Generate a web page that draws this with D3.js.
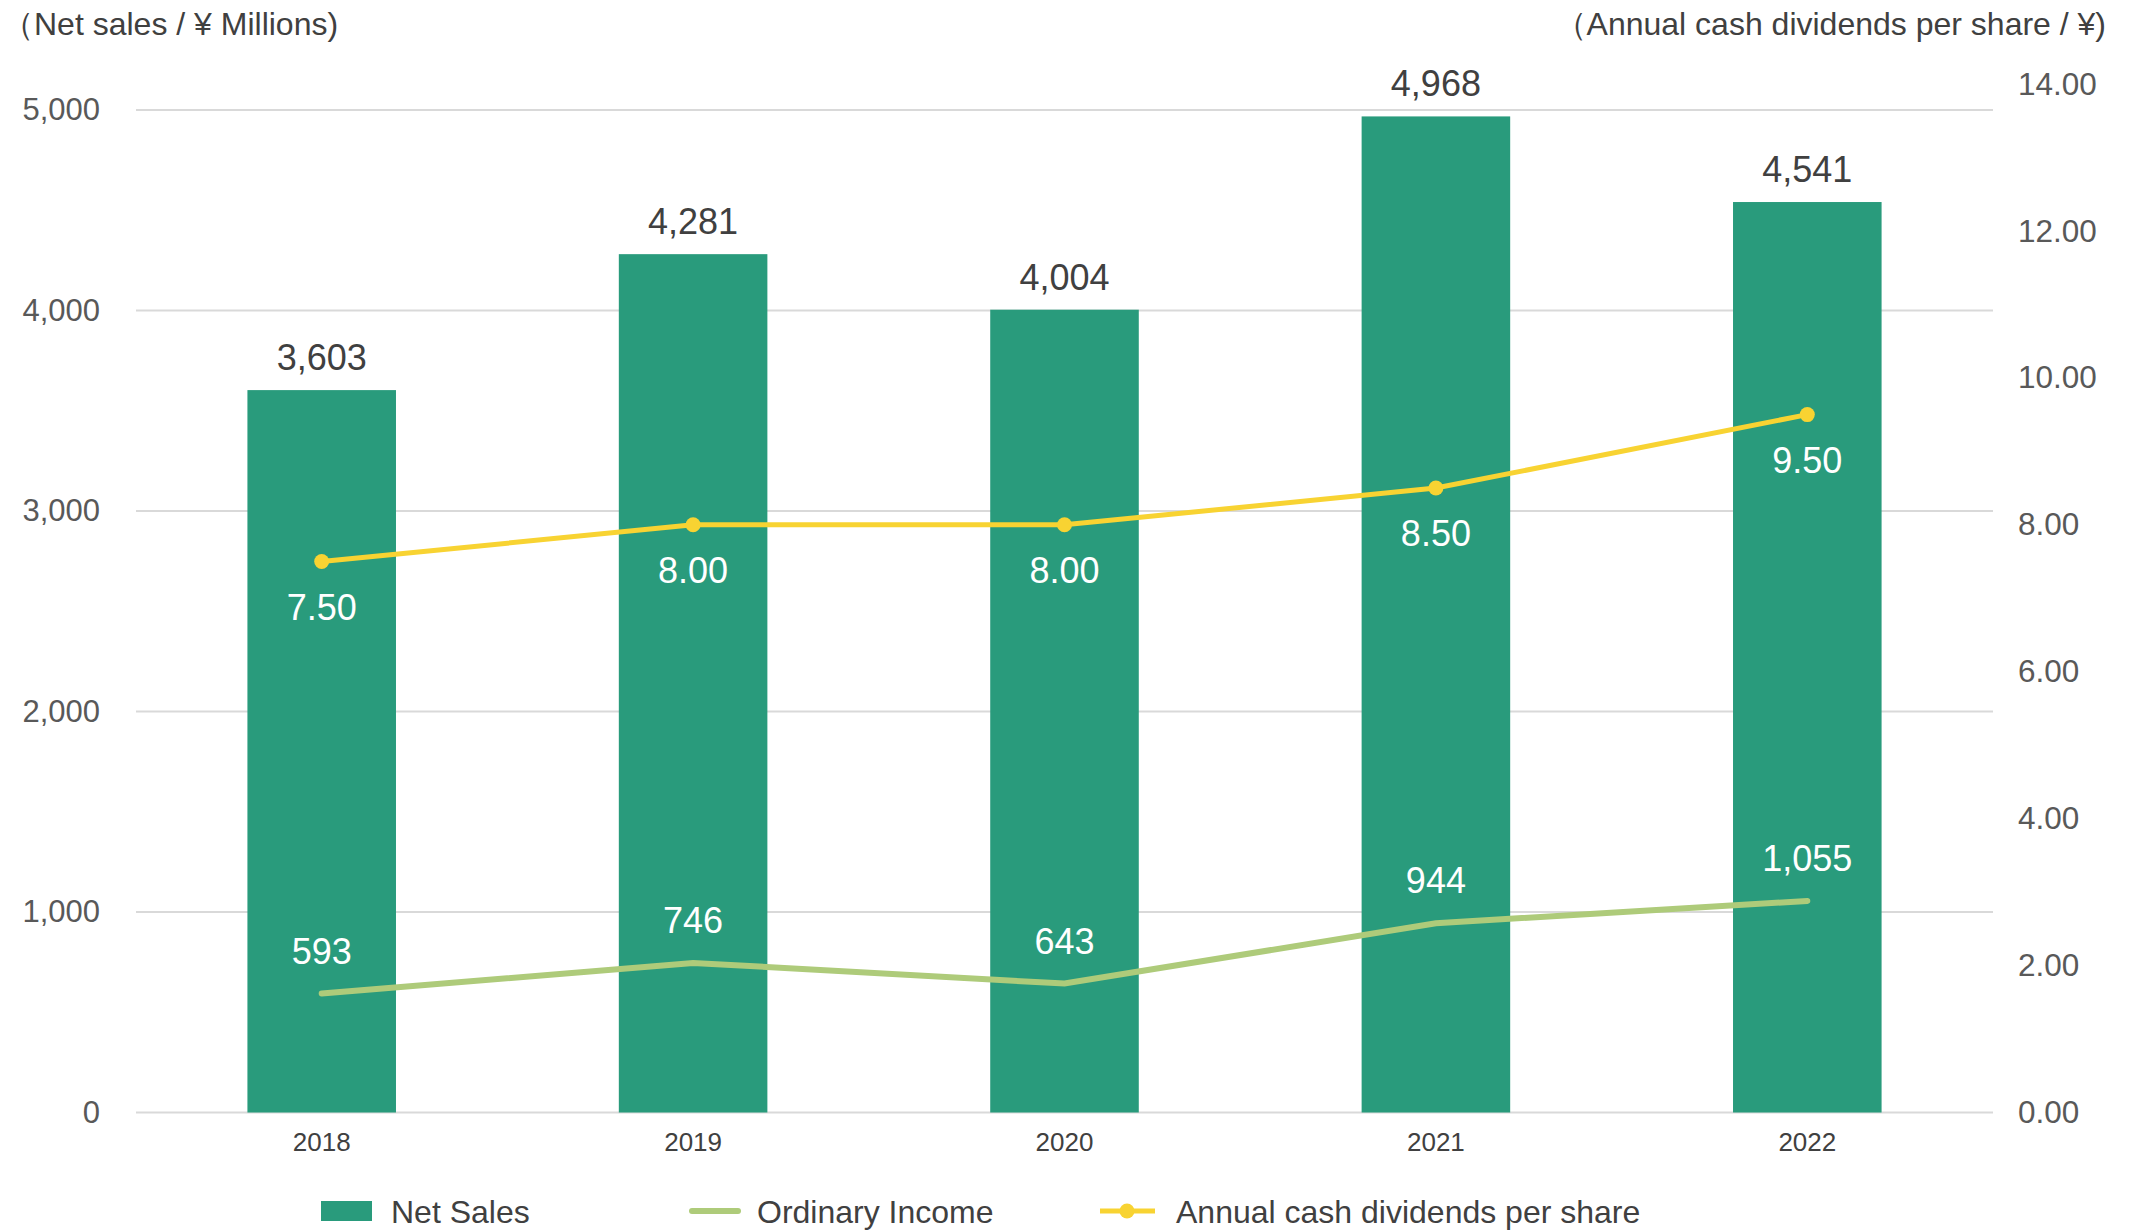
<!DOCTYPE html>
<html>
<head>
<meta charset="utf-8">
<script src="https://cdn.jsdelivr.net/npm/d3@7"></script>
<style>
  body { margin: 0; background: #fff; }
  text { font-family: "Liberation Sans", Arial, sans-serif; }
</style>
</head>
<body>
<svg id="chart" width="2130" height="1230"></svg>
<script>
const years = ["2018", "2019", "2020", "2021", "2022"];
const netSales = [3603, 4281, 4004, 4968, 4541];
const ordinaryIncome = [593, 746, 643, 944, 1055];
const dividends = [7.5, 8.0, 8.0, 8.5, 9.5];
const leftTicks = [0, 1000, 2000, 3000, 4000, 5000];
const rightTicks = [0, 2, 4, 6, 8, 10, 12, 14];
const legendNames = ["Net Sales", "Ordinary Income", "Annual cash dividends per share"];

const green = "#299b7c", lime = "#aecb7a", yellow = "#f8d332";

var svg = d3.select("#chart");
var left = 136, right = 1993, bottom = 1112.5;

var x = d3.scaleBand().domain(years).range([left, right]).paddingInner(0.6).paddingOuter(0.3);
var yL = d3.scaleLinear().domain([0, 5000]).range([bottom, 110]);
var yR = d3.scaleLinear().domain([0, 14]).range([bottom, 84]);
var cx = d => x(d) + x.bandwidth() / 2;

// gridlines
svg.append("g")
  .selectAll("line")
  .data(leftTicks)
  .enter()
  .append("line")
  .attr("x1", left).attr("x2", right)
  .attr("y1", d => yL(d)).attr("y2", d => yL(d))
  .attr("stroke", "#d9d9d9")
  .attr("stroke-width", 2);

// left axis
var gL = svg.append("g")
  .attr("transform", "translate(" + 116 + ",0)")
  .call(d3.axisLeft(yL).tickValues(leftTicks).tickFormat(d3.format(",")).tickSize(0).tickPadding(16));
gL.select(".domain").remove();
gL.selectAll("text").attr("font-size", 31).attr("fill", "#595959").attr("font-family", "Liberation Sans, Arial");

// right axis
var gR = svg.append("g")
  .attr("transform", "translate(" + 2002 + ",0)")
  .call(d3.axisRight(yR).tickValues(rightTicks).tickFormat(d3.format(".2f")).tickSize(0).tickPadding(16));
gR.select(".domain").remove();
gR.selectAll("text").attr("font-size", 31.5).attr("fill", "#595959").attr("font-family", "Liberation Sans, Arial");

// x axis
var gX = svg.append("g")
  .attr("transform", "translate(0," + bottom + ")")
  .call(d3.axisBottom(x).tickSize(0).tickPadding(20));
gX.select(".domain").remove();
gX.selectAll("text").attr("font-size", 26).attr("fill", "#404040").attr("font-family", "Liberation Sans, Arial");

// bars
svg.append("g")
  .selectAll("rect")
  .data(netSales)
  .enter()
  .append("rect")
  .attr("x", (d, i) => x(years[i]))
  .attr("width", x.bandwidth())
  .attr("y", d => yL(d))
  .attr("height", d => bottom - yL(d))
  .attr("fill", green);

svg.append("g")
  .selectAll("text")
  .data(netSales)
  .enter()
  .append("text")
  .attr("x", (d, i) => cx(years[i]))
  .attr("y", d => yL(d) - 20)
  .attr("text-anchor", "middle")
  .attr("font-size", 36)
  .attr("fill", "#404040")
  .text(d => d3.format(",")(d));

// ordinary income line
var lineL = d3.line().x((d, i) => cx(years[i])).y(d => yL(d));
svg.append("path")
  .datum(ordinaryIncome)
  .attr("d", lineL)
  .attr("fill", "none")
  .attr("stroke", lime)
  .attr("stroke-width", 6)
  .attr("stroke-linecap", "round");

svg.append("g")
  .selectAll("text")
  .data(ordinaryIncome)
  .enter()
  .append("text")
  .attr("x", (d, i) => cx(years[i]))
  .attr("y", d => yL(d) - 30)
  .attr("text-anchor", "middle")
  .attr("font-size", 36)
  .attr("fill", "#fff")
  .text(d => d3.format(",")(d));

// dividends line
var lineR = d3.line().x((d, i) => cx(years[i])).y(d => yR(d));
svg.append("path")
  .datum(dividends)
  .attr("d", lineR)
  .attr("fill", "none")
  .attr("stroke", yellow)
  .attr("stroke-width", 5);

svg.append("g")
  .selectAll("circle")
  .data(dividends)
  .enter()
  .append("circle")
  .attr("cx", (d, i) => cx(years[i]))
  .attr("cy", d => yR(d))
  .attr("r", 7.5)
  .attr("fill", yellow);

svg.append("g")
  .selectAll("text")
  .data(dividends)
  .enter()
  .append("text")
  .attr("x", (d, i) => cx(years[i]))
  .attr("y", d => yR(d) + 58)
  .attr("text-anchor", "middle")
  .attr("font-size", 36)
  .attr("fill", "#fff")
  .text(d => d3.format(".2f")(d));

// axis titles
svg.append("text")
  .attr("x", 2).attr("y", 35)
  .attr("font-size", 32).attr("fill", "#404040")
  .text("（Net sales / ¥ Millions)");
svg.append("text")
  .attr("x", 2106).attr("y", 35)
  .attr("text-anchor", "end")
  .attr("font-size", 32).attr("fill", "#404040")
  .text("（Annual cash dividends per share / ¥)");

// legend
var lg = svg.append("g").attr("transform", "translate(0,1211)");
lg.append("rect").attr("x", 321).attr("y", -10).attr("width", 51).attr("height", 20).attr("fill", green);
lg.append("line").attr("x1", 692).attr("x2", 738).attr("y1", 0).attr("y2", 0)
  .attr("stroke", lime).attr("stroke-width", 6).attr("stroke-linecap", "round");
lg.append("line").attr("x1", 1100).attr("x2", 1155).attr("y1", 0).attr("y2", 0)
  .attr("stroke", yellow).attr("stroke-width", 5);
lg.append("circle").attr("cx", 1127).attr("cy", 0).attr("r", 7.5).attr("fill", yellow);
lg.selectAll("text.lbl")
  .data(legendNames)
  .enter()
  .append("text")
  .attr("class", "lbl")
  .attr("x", (d, i) => [391, 757, 1176][i])
  .attr("y", 12)
  .attr("font-size", 32)
  .attr("fill", "#404040")
  .text(d => d);
</script>
</body>
</html>
